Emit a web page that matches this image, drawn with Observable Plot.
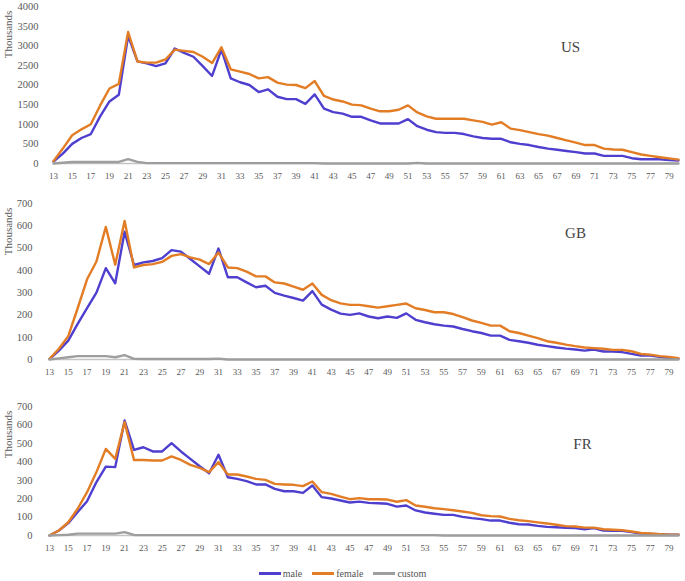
<!DOCTYPE html>
<html>
<head>
<meta charset="utf-8">
<script src="https://cdn.jsdelivr.net/npm/d3@7"></script>
<script src="https://cdn.jsdelivr.net/npm/@observablehq/plot@0.6"></script>
<style>
  html, body { margin: 0; padding: 0; background: #fff; }
  body { width: 685px; font-family: "Liberation Serif", "DejaVu Serif", serif; }
  .panel svg { display: block; }
  #legend { display: flex; justify-content: center; align-items: center; height: 23px; margin-top: 4px; font-size: 10px; color: #555; gap: 10px; font-family: "Liberation Serif", "DejaVu Serif", serif; }
  #legend .item { display: flex; align-items: center; }
  #legend .sw { width: 22px; height: 2.5px; margin-right: 2px; }
</style>
</head>
<body>
<div id="us" class="panel"></div>
<div id="gb" class="panel"></div>
<div id="fr" class="panel"></div>
<div id="legend"></div>
<script>
const ages = [13,14,15,16,17,18,19,20,21,22,23,24,25,26,27,28,29,30,31,32,33,34,35,36,37,38,39,40,41,42,43,44,45,46,47,48,49,50,51,52,53,54,55,56,57,58,59,60,61,62,63,64,65,66,67,68,69,70,71,72,73,74,75,76,77,78,79,80];
const xTicks = [13,15,17,19,21,23,25,27,29,31,33,35,37,39,41,43,45,47,49,51,53,55,57,59,61,63,65,67,69,71,73,75,77,79];
const seriesNames = ["male", "female", "custom"];
const seriesColors = ["#4f3fcf", "#e27d25", "#9e9e9e"];

const usMale = [50,250,500,650,750,1200,1580,1750,3250,2600,
  2550,2480,2550,2930,2820,2720,2480,2230,2900,2170,
  2070,2000,1820,1890,1700,1640,1640,1520,1760,1400,
  1310,1270,1190,1190,1100,1020,1020,1020,1130,950,
  860,800,780,780,750,690,650,630,630,540,
  500,470,420,380,350,320,290,255,255,195,
  195,195,135,110,110,110,85,75];
const usFemale = [60,380,720,870,1000,1480,1910,2030,3350,2600,
  2570,2570,2650,2900,2870,2840,2720,2560,2960,2400,
  2340,2280,2170,2200,2060,2010,2000,1920,2100,1720,
  1630,1580,1500,1480,1400,1330,1330,1370,1480,1300,
  1200,1140,1140,1140,1140,1100,1060,990,1050,890,
  850,800,750,710,650,590,530,470,470,380,
  355,350,290,230,195,160,130,100];
const usCustom = [0,20,40,40,40,40,40,40,110,40,
  10,10,10,10,10,10,10,10,10,10,
  10,10,10,10,10,10,10,10,10,0,
  0,0,0,0,0,0,0,0,0,15,
  0,0,0,0,0,0,0,0,0,0,
  0,0,0,0,0,0,0,0,0,0,
  0,0,0,0,0,0,0,0];

const gbMale = [2,40,85,160,230,300,410,342,573,424,
  436,442,455,491,484,451,418,385,498,369,
  369,346,324,331,299,287,276,264,307,246,
  224,206,200,207,193,185,193,187,207,178,
  167,158,152,148,137,127,119,107,107,88,
  82,75,66,60,54,49,45,40,45,36,
  36,33,25,18,18,12,7,3];
const gbFemale = [3,48,105,230,360,440,595,425,622,413,
  424,428,438,465,473,458,448,428,480,413,
  410,394,373,373,346,341,327,313,341,290,
  266,252,245,245,239,233,239,245,251,230,
  222,212,212,204,190,175,164,152,152,127,
  119,107,96,82,75,67,60,54,51,48,
  43,43,37,25,22,15,12,6];
const gbCustom = [0,5,10,15,15,15,15,10,20,3,
  2,2,2,2,2,2,2,2,4,0,
  0,0,0,0,0,0,0,0,0,0,
  0,0,0,0,0,0,0,0,0,0,
  0,0,0,0,0,0,0,0,0,0,
  0,0,0,0,0,0,0,0,0,0,
  0,0,0,0,0,0,0,0];

const frMale = [0,27,67,127,186,290,374,371,624,465,
  479,456,456,501,456,416,376,338,438,316,
  307,295,277,277,253,240,240,231,271,208,
  201,190,179,184,177,175,172,157,163,136,
  125,118,112,112,101,94,89,81,81,69,
  61,60,52,47,45,42,40,34,40,27,
  25,25,18,11,9,7,5,4];
const frFemale = [0,27,72,145,235,344,470,416,615,410,
  410,407,407,429,410,383,367,344,398,331,
  331,320,307,302,280,277,275,268,293,235,
  226,211,197,203,197,197,195,183,192,163,
  156,148,143,137,130,123,110,105,103,90,
  83,78,71,65,58,51,49,43,43,34,
  31,29,22,14,11,7,4,4];
const frCustom = [0,2,4,10,10,10,10,10,18,3,
  2,2,2,2,2,2,2,2,2,2,
  2,2,2,2,2,2,2,2,2,2,
  2,2,2,2,2,2,2,2,2,2,
  2,2,0,0,0,0,0,0,0,0,
  0,0,0,0,0,0,0,0,0,0,
  0,0,0,0,0,0,0,0];

const usTicks = [0,500,1000,1500,2000,2500,3000,3500,4000];
const euTicks = [0,100,200,300,400,500,600,700];

function longData(m, f, c) {
  const out = [];
  [m, f, c].forEach((arr, i) => arr.forEach((v, j) => out.push({age: ages[j], value: v, series: seriesNames[i]})));
  return out;
}

function panel(el, label, m, f, c, yTicks, cfg) {
  const data = longData(m, f, c);
  const chart = Plot.plot({
    width: 685,
    height: cfg.height,
    marginTop: cfg.mt,
    marginBottom: cfg.mb,
    marginLeft: cfg.ml,
    marginRight: 7,
    style: {fontFamily: '"Liberation Serif", "DejaVu Serif", serif', color: "#555", background: "#fff"},
    x: {domain: [13, 80], label: null},
    y: {domain: [0, yTicks[yTicks.length - 1]], label: null},
    color: {domain: seriesNames, range: seriesColors},
    marks: [
      Plot.axisX({ticks: xTicks, tickSize: 0, tickPadding: 9, tickFormat: "d", fontSize: 9, fill: "#595959", label: null}),
      Plot.axisY({ticks: yTicks, tickSize: 0, tickPadding: cfg.yp, tickFormat: "d", fontSize: 10.5, fill: "#595959", label: null}),
      Plot.ruleY([0], {stroke: "#c4c4c4", strokeWidth: 1.5}),
      Plot.line(data, {x: "age", y: "value", stroke: "series", z: "series", strokeWidth: 2.4, strokeLinejoin: "round"}),
      Plot.text(["Thousands"], {frameAnchor: "top-left", textAnchor: "middle", lineAnchor: "middle", dx: 8 - cfg.ml, dy: 28, rotate: -90, fontSize: 11, fill: "#595959"}),
      Plot.text([label], {frameAnchor: "top-left", textAnchor: "middle", lineAnchor: "middle", dx: cfg.lx, dy: cfg.ly, fontSize: 15, fill: "#444"})
    ]
  });
  document.getElementById(el).appendChild(chart);
}

panel("us", "US", usMale, usFemale, usCustom, usTicks, {height: 185, mt: 6, mb: 22, ml: 53, yp: 15, lx: 517, ly: 41});
panel("gb", "GB", gbMale, gbFemale, gbCustom, euTicks, {height: 197, mt: 18, mb: 23, ml: 49, yp: 17, lx: 526, ly: 30});
panel("fr", "FR", frMale, frFemale, frCustom, euTicks, {height: 176, mt: 24, mb: 23, ml: 49, yp: 17, lx: 533, ly: 38});

const legend = document.getElementById("legend");
seriesNames.forEach((n, i) => {
  const item = document.createElement("div");
  item.className = "item";
  const sw = document.createElement("div");
  sw.className = "sw";
  sw.style.background = seriesColors[i];
  const t = document.createElement("span");
  t.textContent = n;
  item.appendChild(sw);
  item.appendChild(t);
  legend.appendChild(item);
});
</script>
</body>
</html>
